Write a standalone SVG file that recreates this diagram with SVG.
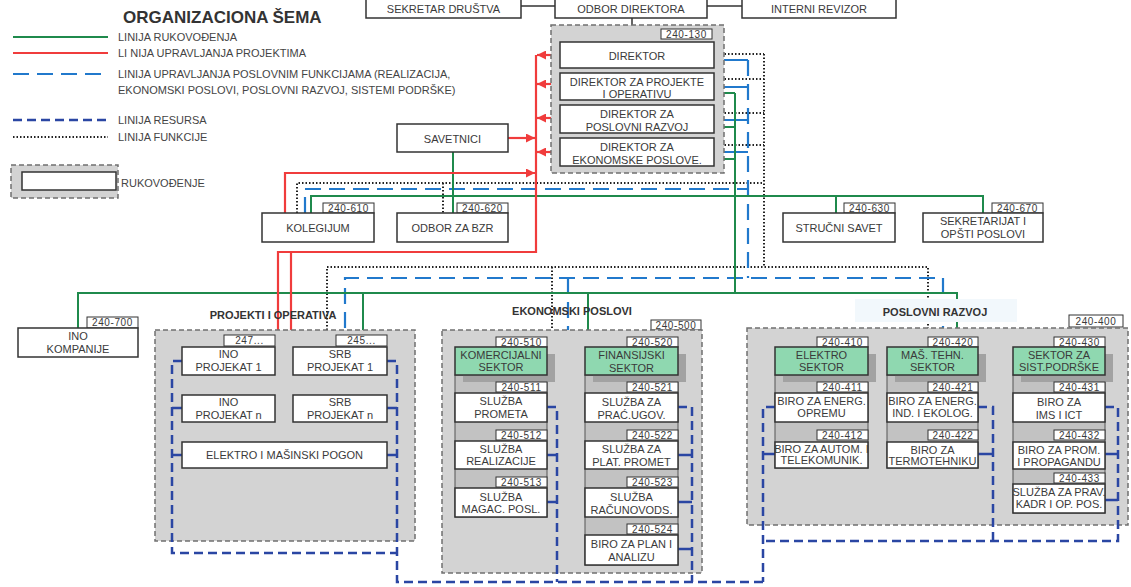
<svg xmlns="http://www.w3.org/2000/svg" width="1131" height="587" viewBox="0 0 1131 587">
<defs>
<style>
.box{fill:#fff;stroke:#333;stroke-width:1.5}
.lbl{fill:#fff;stroke:#333;stroke-width:1}
.sec{fill:#8fd8b0;stroke:#333;stroke-width:1.5}
.sh{fill:#a2a2a2}
.grp{fill:#d3d3d3;stroke:#707070;stroke-width:1.5;stroke-dasharray:5 3}
.col{fill:#c2c2c2;stroke:#555;stroke-width:1}
.t{font-family:'Liberation Sans',Arial,sans-serif;fill:#3a3a3a;text-anchor:middle;font-size:11px}
.l{font-family:'Liberation Sans',Arial,sans-serif;fill:#3a3a3a;text-anchor:middle;font-size:10px;letter-spacing:0.6px}
.lg{font-family:'Liberation Sans',Arial,sans-serif;fill:#444;font-size:11px}
.h{font-family:'Liberation Sans',Arial,sans-serif;fill:#333;text-anchor:middle;font-size:11px;font-weight:bold}
.g{stroke:#1f8a4c;stroke-width:2;fill:none}
.r{stroke:#f03c3c;stroke-width:2.2;fill:none}
.b{stroke:#2179cc;stroke-width:2.2;fill:none;stroke-dasharray:16 8}
.rs{stroke:#2a46a3;stroke-width:2.5;fill:none;stroke-dasharray:9 5}
.rt{stroke:#2a46a3;stroke-width:2.5;fill:none}
.bt{stroke:#2179cc;stroke-width:2.2;fill:none}
.d{stroke:#222;stroke-width:2;fill:none;stroke-dasharray:1.5 2}
.k{stroke:#333;stroke-width:1.5;fill:none}
</style>
<marker id="ar" markerUnits="userSpaceOnUse" markerWidth="9" markerHeight="9" refX="9" refY="4.5" orient="auto">
<path d="M0,0 L9,4.5 L0,9 z" fill="#f03c3c"/>
</marker>
</defs>
<rect width="1131" height="587" fill="#fff"/>

<!-- legend -->
<g id="legend">
<text x="123" y="23" font-family="'Liberation Sans',Arial,sans-serif" font-weight="bold" font-size="17" fill="#333">ORGANIZACIONA ŠEMA</text>
<path class="g" d="M13,37 H108"/>
<text class="lg" x="118" y="40.5">LINIJA RUKOVOĐENJA</text>
<path class="r" d="M13,53 H108"/>
<text class="lg" x="118" y="57">LI NIJA UPRAVLJANJA PROJEKTIMA</text>
<path class="b" d="M13,74 H108"/>
<text class="lg" x="118" y="77.5">LINIJA UPRAVLJANJA POSLOVNIM FUNKCIJAMA (REALIZACIJA,</text>
<text class="lg" x="118" y="93.5">EKONOMSKI POSLOVI, POSLOVNI RAZVOJ, SISTEMI PODRŠKE)</text>
<path class="rs" d="M13,120 H108"/>
<text class="lg" x="118" y="124">LINIJA RESURSA</text>
<path class="d" d="M13,137 H108"/>
<text class="lg" x="118" y="141">LINIJA FUNKCIJE</text>
<rect class="grp" x="11" y="165" width="107" height="33"/>
<rect class="box" x="22" y="172" width="94" height="18"/>
<text class="lg" x="121" y="187">RUKOVOĐENJE</text>
</g>

<!-- connectors -->
<g id="connectors">
<path class="k" d="M521,6 H555 M707,6 H742 M632,18 V42"/>
<!-- functions (dotted) -->
<path class="d" d="M714,54 H764 M714,79 H764 M714,113 H764 M714,145 H764 M764,54 V267"/>
<path class="d" d="M297,213 V183 H764 M443,183 V213"/>
<path class="d" d="M327,330 V267 H928 V328 M552,267 V330"/>
<!-- business management (blue dashed) -->
<path class="bt" d="M714,60 H748 M714,87 H748 M714,120 H748 M714,152 H748"/>
<path class="b" d="M748,60 V278"/>
<path class="b" d="M305,213 V189 H748"/>
<path class="b" d="M345,328 V278 H943 V328 M568,278 V330"/>
<!-- management (green) -->
<path class="g" d="M714,93 H735 M714,127 H735 M714,159 H735 M735,93 V293"/>
<path class="g" d="M311,213 V196 H983 V213 M453,152 V213 M836,196 V213"/>
<path class="g" d="M78,328 V293 H957 V328 M363,293 V330 M588,293 V330"/>
<!-- projects (red) -->
<path class="r" d="M536,55 V252 H278 V442" marker-end="url(#ar)"/>
<path class="r" d="M291,252 V442" marker-end="url(#ar)"/>
<path class="r" d="M560,55 H537" marker-end="url(#ar)"/>
<path class="r" d="M560,84 H537" marker-end="url(#ar)"/>
<path class="r" d="M560,118 H537" marker-end="url(#ar)"/>
<path class="r" d="M560,152 H537" marker-end="url(#ar)"/>
<path class="r" d="M508,138 H535" marker-end="url(#ar)"/>
<path class="r" d="M285,213 V173 H535" marker-end="url(#ar)"/>
</g>

<!-- top boxes -->
<g id="sekretar-drustva"><rect class="box" x="366" y="-6" width="155" height="24"/><text class="t" x="443.5" y="12.5" font-size="10">SEKRETAR DRUŠTVA</text></g>
<g id="odbor-direktora"><rect class="box" x="555" y="-6" width="152" height="24"/><text class="t" x="631" y="12.5" font-size="10">ODBOR DIREKTORA</text></g>
<g id="interni-revizor"><rect class="box" x="742" y="-6" width="154" height="24"/><text class="t" x="819" y="12.5" font-size="10">INTERNI REVIZOR</text></g>

<!-- directors -->
<g id="direktori">
<rect class="grp" x="551" y="25" width="173" height="148"/>
<rect class="lbl" x="661" y="29" width="51" height="10"/><text class="l" x="686.5" y="37.5">240-130</text>
</g>
<g id="direktor"><rect class="box" x="560" y="42" width="154" height="26"/><text class="t" x="637" y="60" font-size="12.5">DIREKTOR</text></g>
<g id="direktor-projekti"><rect class="box" x="560" y="73" width="154" height="27"/><text class="t" x="637" y="85.5">DIREKTOR ZA PROJEKTE</text><text class="t" x="637" y="97.5">I OPERATIVU</text></g>
<g id="direktor-razvoj"><rect class="box" x="560" y="105" width="154" height="28"/><text class="t" x="637" y="118">DIREKTOR ZA</text><text class="t" x="637" y="130.5">POSLOVNI RAZVOJ</text></g>
<g id="direktor-ekonomski"><rect class="box" x="560" y="138" width="154" height="28"/><text class="t" x="637" y="151">DIREKTOR ZA</text><text class="t" x="637" y="163.5">EKONOMSKE POSLOVE.</text></g>

<g id="savetnici"><rect class="box" x="397" y="124" width="111" height="28"/><text class="t" x="452.5" y="143" font-size="14">SAVETNICI</text></g>

<g id="kolegijum"><rect class="lbl" x="323" y="203" width="51" height="10"/><text class="l" x="348.5" y="211.5">240-610</text><rect class="box" x="262" y="213" width="112" height="29"/><text class="t" x="318" y="232">KOLEGIJUM</text></g>
<g id="odbor-bzr"><rect class="lbl" x="457" y="203" width="51" height="10"/><text class="l" x="482.5" y="211.5">240-620</text><rect class="box" x="397" y="213" width="111" height="29"/><text class="t" x="452.5" y="232">ODBOR ZA BZR</text></g>
<g id="strucni-savet"><rect class="lbl" x="844" y="203" width="51" height="10"/><text class="l" x="869.5" y="211.5">240-630</text><rect class="box" x="783" y="213" width="112" height="29"/><text class="t" x="839" y="232">STRUČNI SAVET</text></g>
<g id="sekretarijat"><rect class="lbl" x="992" y="203" width="51" height="10"/><text class="l" x="1017.5" y="211.5">240-670</text><rect class="box" x="923" y="213" width="120" height="29"/><text class="t" x="983" y="225">SEKRETARIJAT I</text><text class="t" x="983" y="238">OPŠTI POSLOVI</text></g>

<g id="ino-kompanije"><rect class="lbl" x="87" y="317" width="51" height="11"/><text class="l" x="112.5" y="326">240-700</text><rect class="box" x="18" y="328" width="120" height="29"/><text class="t" x="78" y="340">INO</text><text class="t" x="78" y="353">KOMPANIJE</text></g>

<!-- PROJEKTI I OPERATIVA -->
<g id="projekti">
<text class="h" x="273" y="319">PROJEKTI I OPERATIVA</text>
<rect class="grp" x="155" y="330" width="260" height="211"/>
<path class="rs" d="M182,361 H172 V553 H397 M387,361 H397 V582 H763"/>
<path class="rt" d="M172,408 H182 M172,455 H182 M387,408 H397 M387,455 H397"/>
</g>
<g id="ino-projekat-1"><rect class="lbl" x="224" y="335" width="51" height="11"/><text class="l" x="249.5" y="344">247...</text><rect class="box" x="182" y="347" width="93" height="28"/><text class="t" x="228.5" y="358">INO</text><text class="t" x="228.5" y="371">PROJEKAT 1</text></g>
<g id="srb-projekat-1"><rect class="lbl" x="336" y="335" width="51" height="11"/><text class="l" x="361.5" y="344">245...</text><rect class="box" x="293" y="347" width="94" height="28"/><text class="t" x="340" y="358">SRB</text><text class="t" x="340" y="371">PROJEKAT 1</text></g>
<g id="ino-projekat-n"><rect class="box" x="182" y="395" width="93" height="27"/><text class="t" x="228.5" y="406">INO</text><text class="t" x="228.5" y="419">PROJEKAT n</text></g>
<g id="srb-projekat-n"><rect class="box" x="293" y="395" width="94" height="27"/><text class="t" x="340" y="406">SRB</text><text class="t" x="340" y="419">PROJEKAT n</text></g>
<g id="elektro-masinski-pogon"><rect class="box" x="182" y="442" width="205" height="26"/><text class="t" x="284.5" y="459">ELEKTRO I MAŠINSKI POGON</text></g>

<!-- EKONOMSKI POSLOVI -->
<g id="ekonomski">
<text class="h" x="572" y="315">EKONOMSKI POSLOVI</text>
<rect class="lbl" x="651" y="320" width="50" height="10"/><text class="l" x="676" y="328.5">240-500</text>
<rect class="grp" x="442" y="330" width="260" height="243"/>
<rect class="col" x="455" y="375" width="92" height="142"/>
<rect class="col" x="585" y="375" width="93" height="190"/>
<rect class="sh" x="463" y="354" width="92" height="28"/>
<rect class="sh" x="593" y="354" width="93" height="28"/>
<path class="rs" d="M547,407 H557 V582 M678,407 H692 V582"/>
<path class="rt" d="M547,455 H557 M547,502 H557 M678,455 H692 M678,502 H692 M678,549 H692"/>
</g>
<g id="komercijalni-sektor"><rect class="lbl" x="496" y="337" width="51" height="10"/><text class="l" x="521.5" y="345.5">240-510</text><rect class="sec" x="455" y="347" width="92" height="28"/><text class="t" x="501" y="358.5" font-size="9.5">KOMERCIJALNI</text><text class="t" x="501" y="371" font-size="9.5">SEKTOR</text></g>
<g id="sluzba-prometa"><rect class="lbl" x="496" y="382" width="51" height="10"/><text class="l" x="521.5" y="390.5">240-511</text><rect class="box" x="455" y="393" width="92" height="29"/><text class="t" x="501" y="405" font-size="9.5">SLUŽBA</text><text class="t" x="501" y="417.5" font-size="9.5">PROMETA</text></g>
<g id="sluzba-realizacije"><rect class="lbl" x="496" y="430" width="51" height="10"/><text class="l" x="521.5" y="438.5">240-512</text><rect class="box" x="455" y="441" width="92" height="28"/><text class="t" x="501" y="452.5" font-size="8.5">SLUŽBA</text><text class="t" x="501" y="464.5" font-size="8.5">REALIZACIJE</text></g>
<g id="sluzba-magac"><rect class="lbl" x="496" y="477" width="51" height="10"/><text class="l" x="521.5" y="485.5">240-513</text><rect class="box" x="455" y="488" width="92" height="29"/><text class="t" x="501" y="500.5">SLUŽBA</text><text class="t" x="501" y="513" font-size="10.5">MAGAC. POSL.</text></g>
<g id="finansijski-sektor"><rect class="lbl" x="627" y="337" width="51" height="10"/><text class="l" x="652.5" y="345.5">240-520</text><rect class="sec" x="585" y="347" width="93" height="28"/><text class="t" x="631.5" y="358.5" font-size="10">FINANSIJSKI</text><text class="t" x="631.5" y="371.5">SEKTOR</text></g>
<g id="sluzba-prac-ugov"><rect class="lbl" x="627" y="382" width="51" height="10"/><text class="l" x="652.5" y="390.5">240-521</text><rect class="box" x="585" y="393" width="93" height="29"/><text class="t" x="631.5" y="405.5">SLUŽBA ZA</text><text class="t" x="631.5" y="418.5">PRAĆ.UGOV.</text></g>
<g id="sluzba-plat-promet"><rect class="lbl" x="627" y="430" width="51" height="10"/><text class="l" x="652.5" y="438.5">240-522</text><rect class="box" x="585" y="441" width="93" height="28"/><text class="t" x="631.5" y="453">SLUŽBA ZA</text><text class="t" x="631.5" y="466">PLAT. PROMET</text></g>
<g id="sluzba-racunovods"><rect class="lbl" x="627" y="477" width="51" height="10"/><text class="l" x="652.5" y="485.5">240-523</text><rect class="box" x="585" y="488" width="93" height="29"/><text class="t" x="631.5" y="500.5">SLUŽBA</text><text class="t" x="631.5" y="513.5">RAČUNOVODS.</text></g>
<g id="biro-plan-analiza"><rect class="lbl" x="627" y="524" width="51" height="10"/><text class="l" x="652.5" y="532.5">240-524</text><rect class="box" x="585" y="535" width="93" height="30"/><text class="t" x="631.5" y="547.5" font-size="10.5">BIRO ZA PLAN I</text><text class="t" x="631.5" y="560.5" font-size="10.5">ANALIZU</text></g>

<!-- POSLOVNI RAZVOJ -->
<g id="poslovni-razvoj">
<rect x="855" y="299" width="162" height="23" fill="#f2f8fc"/>
<text class="h" x="935" y="316">POSLOVNI RAZVOJ</text>
<rect class="lbl" x="1069" y="315" width="54" height="12"/><text class="l" x="1096" y="324.5">240-400</text>
<rect class="grp" x="747" y="328" width="381" height="197"/>
<rect class="col" x="775" y="375" width="93" height="93"/>
<rect class="col" x="887" y="375" width="91" height="93"/>
<rect class="col" x="1013" y="375" width="92" height="138"/>
<rect class="sh" x="783" y="354" width="93" height="28"/>
<rect class="sh" x="895" y="354" width="91" height="28"/>
<rect class="sh" x="1021" y="354" width="92" height="28"/>
<path class="rs" d="M775,407 H763 V582 M978,407 H993 V541 M1105,407 H1118 V541 H763"/>
<path class="rt" d="M763,454 H775 M978,454 H993 M1105,454 H1118 M1105,500 H1118"/>
</g>
<g id="elektro-sektor"><rect class="lbl" x="817" y="337" width="51" height="10"/><text class="l" x="842.5" y="345.5">240-410</text><rect class="sec" x="775" y="347" width="93" height="28"/><text class="t" x="821.5" y="358.5">ELEKTRO</text><text class="t" x="821.5" y="371">SEKTOR</text></g>
<g id="biro-energ-opremu"><rect class="lbl" x="817" y="382" width="51" height="10"/><text class="l" x="842.5" y="390.5">240-411</text><rect class="box" x="775" y="393" width="93" height="29"/><text class="t" x="821.5" y="405" font-size="9">BIRO ZA ENERG.</text><text class="t" x="821.5" y="417" font-size="9">OPREMU</text></g>
<g id="biro-autom"><rect class="lbl" x="817" y="430" width="51" height="10"/><text class="l" x="842.5" y="438.5">240-412</text><rect class="box" x="775" y="442" width="93" height="26"/><text class="t" x="821.5" y="453" font-size="8.5">BIRO ZA AUTOM. I</text><text class="t" x="821.5" y="464" font-size="8.5">TELEKOMUNIK.</text></g>
<g id="mas-tehn-sektor"><rect class="lbl" x="928" y="337" width="50" height="10"/><text class="l" x="953" y="345.5">240-420</text><rect class="sec" x="887" y="347" width="91" height="28"/><text class="t" x="932.5" y="358.5" font-size="10">MAŠ. TEHN.</text><text class="t" x="932.5" y="371" font-size="10.5">SEKTOR</text></g>
<g id="biro-energ-ind"><rect class="lbl" x="928" y="382" width="50" height="10"/><text class="l" x="953" y="390.5">240-421</text><rect class="box" x="887" y="393" width="91" height="29"/><text class="t" x="932.5" y="405" font-size="9">BIRO ZA ENERG.</text><text class="t" x="932.5" y="417" font-size="9">IND. I EKOLOG.</text></g>
<g id="biro-termotehniku"><rect class="lbl" x="928" y="430" width="50" height="10"/><text class="l" x="953" y="438.5">240-422</text><rect class="box" x="887" y="442" width="91" height="26"/><text class="t" x="932.5" y="453.5" font-size="9">BIRO ZA</text><text class="t" x="932.5" y="465" font-size="9">TERMOTEHNIKU</text></g>
<g id="sektor-sist-podrske"><rect class="lbl" x="1054" y="337" width="51" height="10"/><text class="l" x="1079.5" y="345.5">240-430</text><rect class="sec" x="1013" y="347" width="92" height="28"/><text class="t" x="1059" y="358.5" font-size="10.5">SEKTOR ZA</text><text class="t" x="1059" y="371" font-size="10.5">SIST.PODRŠKE</text></g>
<g id="biro-ims-ict"><rect class="lbl" x="1054" y="382" width="51" height="10"/><text class="l" x="1079.5" y="390.5">240-431</text><rect class="box" x="1013" y="393" width="92" height="29"/><text class="t" x="1059" y="405.5">BIRO ZA</text><text class="t" x="1059" y="418.5">IMS I ICT</text></g>
<g id="biro-prom-propagandu"><rect class="lbl" x="1054" y="430" width="51" height="10"/><text class="l" x="1079.5" y="438.5">240-432</text><rect class="box" x="1013" y="442" width="92" height="27"/><text class="t" x="1059" y="453.5" font-size="10">BIRO ZA PROM.</text><text class="t" x="1059" y="466" font-size="10">I PROPAGANDU</text></g>
<g id="sluzba-prav-kadr"><rect class="lbl" x="1054" y="473" width="51" height="10"/><text class="l" x="1079.5" y="481.5">240-433</text><rect class="box" x="1013" y="484" width="92" height="29"/><text class="t" x="1059" y="496" font-size="8.5">SLUŽBA ZA PRAV.</text><text class="t" x="1059" y="508" font-size="8.5">KADR I OP. POS.</text></g>
</svg>
